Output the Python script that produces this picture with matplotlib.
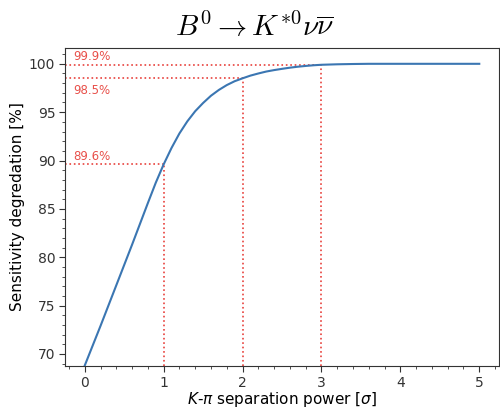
import matplotlib.pyplot as plt
from matplotlib.ticker import MultipleLocator

# K-pi separation power [sigma] and sensitivity degradation [%]
sep_power = [0.0, 0.1, 0.2, 0.3, 0.4, 0.5, 0.6, 0.7, 0.8, 0.9, 1.0,
             1.1, 1.2, 1.3, 1.4, 1.5, 1.6, 1.7, 1.8, 1.9, 2.0,
             2.1, 2.2, 2.3, 2.4, 2.5, 2.6, 2.7, 2.8, 2.9, 3.0,
             3.2, 3.4, 3.6, 3.8, 4.0, 4.5, 5.0]
sensitivity = [68.8, 70.85, 72.9, 75.0, 77.1, 79.2, 81.3, 83.45, 85.6, 87.7, 89.6,
               91.3, 92.8, 94.05, 95.1, 95.95, 96.7, 97.3, 97.8, 98.2, 98.5,
               98.78, 99.0, 99.2, 99.35, 99.48, 99.6, 99.7, 99.78, 99.85, 99.9,
               99.95, 99.98, 100.0, 100.0, 100.0, 100.0, 100.0]

# reference points marked on the curve
mark_x = [1, 2, 3]
mark_y = [89.6, 98.5, 99.9]
mark_text = ['89.6%', '98.5%', '99.9%']
mark_offset = [0.45, -1.6, 0.45]

fig = plt.figure(figsize=(5, 4.09), dpi=100)
ax = fig.add_axes([0.13, 0.105, 0.868, 0.778])

xmin, ymin = -0.25, 68.75
ax.plot(sep_power, sensitivity, color='#3b76b2', lw=1.5, zorder=3)

for x, y, t, off in zip(mark_x, mark_y, mark_text, mark_offset):
    ax.plot([xmin, x], [y, y], ls=':', color='#e8413c', lw=1.2, zorder=2)
    ax.plot([x, x], [ymin, y], ls=':', color='#e8413c', lw=1.2, zorder=2)
    ax.text(-0.14, y + off, t, color='#e8504a', fontsize=8.5)

ax.set_xlim(xmin, 5.25)
ax.set_ylim(ymin, 101.65)
ax.xaxis.set_minor_locator(MultipleLocator(0.2))
ax.yaxis.set_minor_locator(MultipleLocator(1))
ax.tick_params(which='major', length=4, pad=3, labelsize=10, colors='#333333')
ax.tick_params(which='minor', length=2.2, colors='#333333')
for s in ax.spines.values():
    s.set_color('#333333')

ax.set_xlabel(r'$K$-$\pi$ separation power [$\sigma$]', fontsize=11, labelpad=0.5)
ax.set_ylabel('Sensitivity degredation [%]', fontsize=11, labelpad=3)

fig.text(0.51, 0.935, r'$B^0 \to K^{*0}\nu\overline{\nu}$', fontsize=21,
         ha='center', va='center', math_fontfamily='cm')

fig.savefig('out.png', dpi=100)
